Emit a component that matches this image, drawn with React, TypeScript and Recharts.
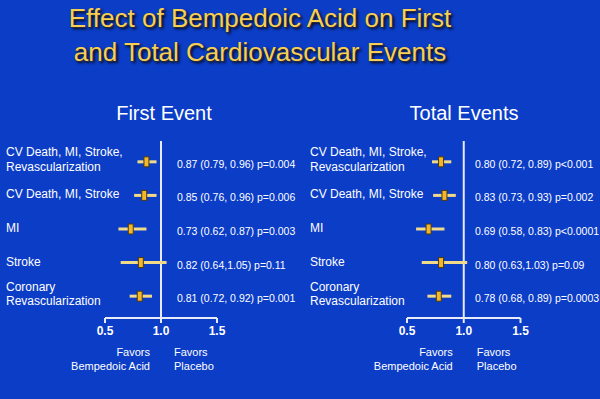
import React from "react";
import { ScatterChart, Scatter, XAxis, YAxis, ErrorBar, ReferenceLine } from "recharts";

const FONT = '"Liberation Sans", Arial, sans-serif';
const BG = "#0b3dc7";
const AXIS = "#e6ebf7";

// outcome rows (same in both panels)
const rowLabels = [
  ["CV Death, MI, Stroke,", "Revascularization"],
  ["CV Death, MI, Stroke"],
  ["MI"],
  ["Stroke"],
  ["Coronary", "Revascularization"],
];

// first event: hazard ratio with 95% CI
const firstHr = [0.87, 0.85, 0.73, 0.82, 0.81];
const firstLo = [0.79, 0.76, 0.62, 0.64, 0.72];
const firstHi = [0.96, 0.96, 0.87, 1.05, 0.92];
const firstText = [
  "0.87 (0.79, 0.96) p=0.004",
  "0.85 (0.76, 0.96) p=0.006",
  "0.73 (0.62, 0.87) p=0.003",
  "0.82 (0.64,1.05) p=0.11",
  "0.81 (0.72, 0.92) p=0.001",
];

// total events
const totalHr = [0.8, 0.83, 0.69, 0.8, 0.78];
const totalLo = [0.72, 0.73, 0.58, 0.63, 0.68];
const totalHi = [0.89, 0.93, 0.83, 1.03, 0.89];
const totalText = [
  "0.80 (0.72, 0.89) p<0.001",
  "0.83 (0.73, 0.93) p=0.002",
  "0.69 (0.58, 0.83) p<0.0001",
  "0.80 (0.63,1.03) p=0.09",
  "0.78 (0.68, 0.89) p=0.0003",
];

const xTicks = [0.5, 1.0, 1.5];
const rowTicks = [0, 1, 2, 3, 4];

function buildRows(hr: number[], lo: number[], hi: number[]) {
  return hr.map((v, i) => ({ row: i, hr: v, err: [v - lo[i], hi[i] - v] }));
}

// row label on the left, result text to the right of the 1.0 line
function RowTick(props: any) {
  const i = props.payload.value;
  const lines: string[] = rowLabels[i] || [];
  const first = lines.length > 1 ? -9.5 : -1;
  return (
    <g>
      <text x={props.left} y={props.y} fill="#fff" fontSize={12} fontFamily={FONT} dominantBaseline="central">
        {lines.map((t, k) => (
          <tspan key={k} x={props.left} dy={k === 0 ? first : 14.5}>
            {t}
          </tspan>
        ))}
      </text>
      <text x={props.valueX} y={props.y + 2} fill="#fff" fontSize={10.5} fontFamily={FONT} dominantBaseline="central">
        {props.texts[i]}
      </text>
    </g>
  );
}

function Marker(props: any) {
  return <rect x={props.cx - 2.5} y={props.cy - 5} width={5} height={10} fill="#f3b62c" stroke="#4a3a10" strokeWidth={1} />;
}

function Favors(props: any) {
  const vb = props.viewBox || {};
  const mid = vb.x + vb.width / 2;
  const y = vb.y;
  const st = { fill: "#fff", fontSize: 11, fontFamily: FONT };
  return (
    <g>
      <text x={mid - 11} y={y + 34} textAnchor="end" dominantBaseline="central" {...st}>Favors</text>
      <text x={mid - 11} y={y + 48} textAnchor="end" dominantBaseline="central" {...st}>Bempedoic Acid</text>
      <text x={mid + 13} y={y + 34} dominantBaseline="central" {...st}>Favors</text>
      <text x={mid + 13} y={y + 48} dominantBaseline="central" {...st}>Placebo</text>
    </g>
  );
}

function Panel({ data, texts, labelX, valueX, leftW, rightM }: any) {
  return (
    <ScatterChart width={300} height={399} margin={{ top: 141, right: rightM, bottom: 0, left: 6 }}>
      <XAxis
        type="number"
        dataKey="hr"
        domain={[0.5, 1.5]}
        ticks={xTicks}
        tickFormatter={(v: number) => v.toFixed(1)}
        tick={{ fill: "#fff", fontSize: 12, fontWeight: "bold", fontFamily: FONT }}
        axisLine={{ stroke: AXIS, strokeWidth: 2 }}
        tickLine={{ stroke: AXIS, strokeWidth: 2 }}
        tickSize={5}
        tickMargin={3}
        height={81}
        label={<Favors />}
      />
      <YAxis
        type="number"
        dataKey="row"
        domain={[-0.62, 4.65]}
        reversed
        ticks={rowTicks}
        width={leftW}
        axisLine={false}
        tickLine={false}
        tick={(p: any) => <RowTick {...p} left={labelX} valueX={valueX} texts={texts} />}
      />
      <ReferenceLine x={1} stroke={AXIS} strokeWidth={2} />
      <Scatter data={data} shape={<Marker />} isAnimationActive={false}>
        <ErrorBar dataKey="err" direction="x" width={0} stroke="#f1d98a" strokeWidth={3} />
      </Scatter>
    </ScatterChart>
  );
}

export default function App() {
  const first = buildRows(firstHr, firstLo, firstHi);
  const total = buildRows(totalHr, totalLo, totalHi);
  return (
    <div style={{ position: "absolute", left: 0, top: 0, width: 600, height: 399, background: BG, fontFamily: FONT, overflow: "hidden" }}>
      <div
        style={{
          position: "absolute",
          left: 0,
          top: 1,
          width: 520,
          textAlign: "center",
          color: "#f7cf55",
          fontSize: 26,
          lineHeight: "34px",
          textShadow: "1px 1px 0 #2a2a3a, 2px 2px 3px #000",
        }}
      >
        Effect of Bempedoic Acid on First
        <br />
        and Total Cardiovascular Events
      </div>
      <div style={{ position: "absolute", left: 14, top: 101, width: 300, textAlign: "center", color: "#fff", fontSize: 20, lineHeight: "24px" }}>
        First Event
      </div>
      <div style={{ position: "absolute", left: 314, top: 101, width: 300, textAlign: "center", color: "#fff", fontSize: 20, lineHeight: "24px" }}>
        Total Events
      </div>
      <div style={{ position: "absolute", left: 0, top: 0 }}>
        <Panel data={first} texts={firstText} labelX={6} valueX={177} leftW={99} rightM={83} />
      </div>
      <div style={{ position: "absolute", left: 300, top: 0 }}>
        <Panel data={total} texts={totalText} labelX={10} valueX={175} leftW={101} rightM={79.5} />
      </div>
    </div>
  );
}
